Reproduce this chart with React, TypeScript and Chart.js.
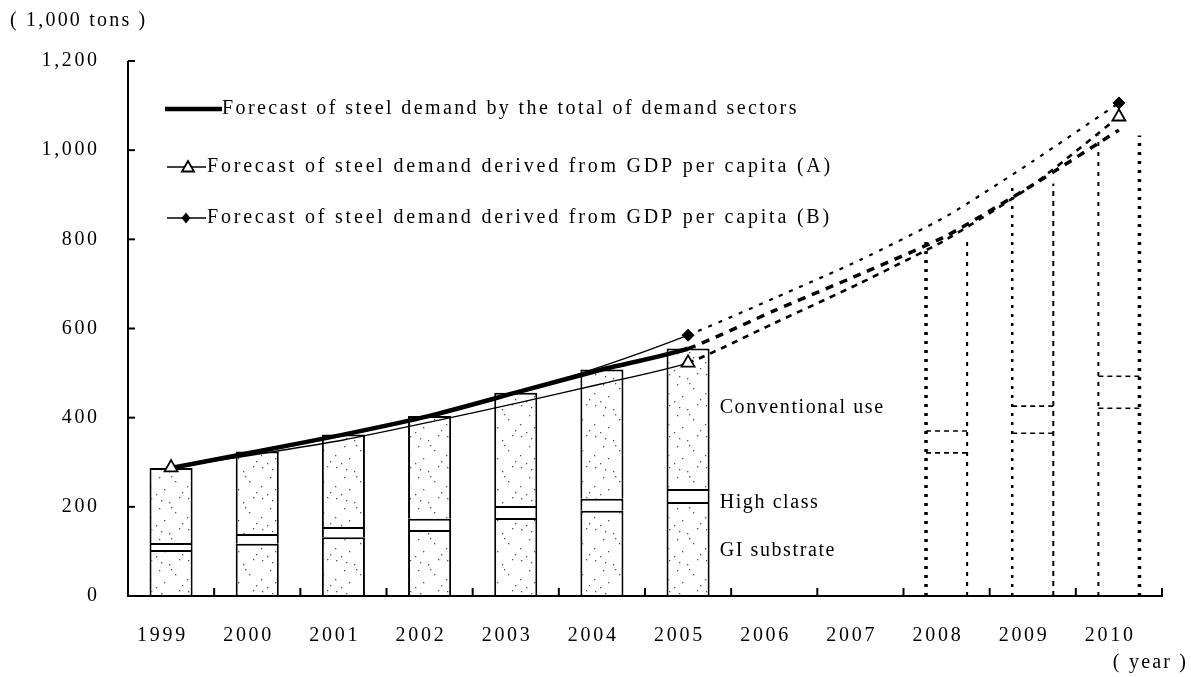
import React, { useEffect, useRef } from 'react';
import { Chart, registerables } from 'chart.js';

Chart.register(...registerables);

// ---------- data (1,000 tons) ----------
const years = ['1999', '2000', '2001', '2002', '2003', '2004', '2005', '2006', '2007', '2008', '2009', '2010'];

// actual demand by sector (stacked bars, 1999-2005)
const giSubstrate = [103, 117, 132, 148, 175, 191, 211, null, null, null, null, null];
const highClass = [16, 22, 23, 25, 27, 27, 29, null, null, null, null, null];
const conventionalUse = [168, 185, 207, 231, 254, 290, 315, null, null, null, null, null];

// forecast by sector (dashed bars, 2008-2010)
const giSubstrateForecast = [null, null, null, null, null, null, null, null, null, 321, 365, 421];
const highClassForecast = [null, null, null, null, null, null, null, null, null, 49, 61, 72];
const conventionalUseForecast = [null, null, null, null, null, null, null, null, null, 430, 499, 540];

// forecast lines
const totalOfSectors = [287, 324, 362, 404, 456, 508, 555, 640, 722, 808, 922, 1045];
const gdpForecastA = [288, 318, 350, 390, 432, 476, 523, 612, 702, 800, 922, 1075];
const gdpForecastB = [288, 322, 360, 402, 455, 515, 585, 668, 754, 852, 975, 1106];

const yTickValues = [0, 200, 400, 600, 800, 1000, 1200];
const SOLID_UNTIL = 6; // index of 2005: afterwards lines are dashed

const FONT = '"Liberation Serif", "Times New Roman", serif';

function drawText(
  ctx: CanvasRenderingContext2D,
  s: string,
  x: number,
  y: number,
  align: 'left' | 'right' | 'center',
  size: number,
  spacing: number
) {
  ctx.save();
  ctx.font = `${size}px ${FONT}`;
  ctx.fillStyle = '#000';
  ctx.textBaseline = 'middle';
  ctx.textAlign = 'left';
  const chars = Array.from(s);
  const widths = chars.map((c) => ctx.measureText(c).width);
  const total = widths.reduce((a, b) => a + b, 0) + spacing * (chars.length - 1);
  let cx = align === 'left' ? x : align === 'right' ? x - total : x - total / 2;
  chars.forEach((c, i) => {
    ctx.fillText(c, cx, y);
    cx += widths[i] + spacing;
  });
  ctx.restore();
}

function line(ctx: CanvasRenderingContext2D, x1: number, y1: number, x2: number, y2: number) {
  ctx.beginPath();
  ctx.moveTo(x1, y1);
  ctx.lineTo(x2, y2);
  ctx.stroke();
}

function triangle(ctx: CanvasRenderingContext2D, cx: number, cy: number, r: number) {
  ctx.save();
  ctx.beginPath();
  ctx.moveTo(cx, cy - r);
  ctx.lineTo(cx - r * 0.866, cy + r / 2);
  ctx.lineTo(cx + r * 0.866, cy + r / 2);
  ctx.closePath();
  ctx.fillStyle = '#fff';
  ctx.fill();
  ctx.lineWidth = 1.8;
  ctx.strokeStyle = '#000';
  ctx.stroke();
  ctx.restore();
}

function diamond(ctx: CanvasRenderingContext2D, cx: number, cy: number, r: number) {
  ctx.save();
  ctx.beginPath();
  ctx.moveTo(cx, cy - r);
  ctx.lineTo(cx + r * 0.8, cy);
  ctx.lineTo(cx, cy + r);
  ctx.lineTo(cx - r * 0.8, cy);
  ctx.closePath();
  ctx.fillStyle = '#000';
  ctx.fill();
  ctx.restore();
}

function makeStipple(): CanvasPattern | string {
  const c = document.createElement('canvas');
  c.width = 37;
  c.height = 31;
  const g = c.getContext('2d');
  if (!g) return '#fff';
  g.fillStyle = '#fff';
  g.fillRect(0, 0, 37, 31);
  g.fillStyle = '#555';
  const dots = [
    [3, 2], [21, 6], [31, 1], [11, 12], [27, 16], [2, 21], [16, 24], [34, 27], [8, 29], [23, 11], [13, 4],
  ];
  dots.forEach(([x, y]) => g.fillRect(x, y, 1.3, 1.3));
  const p = g.createPattern(c, 'repeat');
  return p || '#fff';
}

// style of the dashed forecast bar edges (left, right) for 2008, 2009, 2010
const forecastEdgeStyles = [
  { l: { w: 3.5, d: [3, 6] }, r: { w: 2, d: [4, 6] } },
  { l: { w: 2.5, d: [3, 6] }, r: { w: 2, d: [5, 5] } },
  { l: { w: 2, d: [4, 6] }, r: { w: 3.5, d: [3, 6] } },
];

const decorPlugin = {
  id: 'decor',
  beforeDatasetsDraw(chart: any) {
    const ctx: CanvasRenderingContext2D = chart.ctx;
    const giMeta = chart.getDatasetMeta(3);
    const hcMeta = chart.getDatasetMeta(4);
    const cvMeta = chart.getDatasetMeta(5);
    let k = 0;
    for (let i = 0; i < years.length; i++) {
      if (giSubstrateForecast[i] == null) continue;
      const gi = giMeta.data[i].getProps(['x', 'y', 'base', 'width'], true);
      const hc = hcMeta.data[i].getProps(['y'], true);
      const cv = cvMeta.data[i].getProps(['y'], true);
      const st = forecastEdgeStyles[k++] || forecastEdgeStyles[0];
      const left = gi.x - gi.width / 2 + 1;
      const right = gi.x + gi.width / 2 - 1;
      ctx.save();
      ctx.strokeStyle = '#000';
      ctx.lineWidth = st.l.w;
      ctx.setLineDash(st.l.d);
      line(ctx, left, gi.base, left, cv.y);
      ctx.lineWidth = st.r.w;
      ctx.setLineDash(st.r.d);
      line(ctx, right, gi.base, right, cv.y);
      ctx.lineWidth = 1.6;
      ctx.setLineDash([5, 4]);
      line(ctx, left, gi.y, right, gi.y);
      line(ctx, left, hc.y, right, hc.y);
      ctx.restore();
    }
  },
  afterDraw(chart: any) {
    const ctx: CanvasRenderingContext2D = chart.ctx;
    const { left, right, top, bottom } = chart.chartArea;
    const xs = chart.scales.x;
    const ys = chart.scales.y;
    ctx.save();
    ctx.strokeStyle = '#000';
    ctx.lineWidth = 2;
    ctx.setLineDash([]);
    // axes
    line(ctx, left, top, left, bottom + 1);
    line(ctx, left - 1, bottom, right + 1, bottom);
    yTickValues.forEach((v) => {
      const y = ys.getPixelForValue(v);
      line(ctx, left, y, left + 7, y);
      drawText(ctx, v.toLocaleString('en-US'), 97, y, 'right', 20, 2.6);
    });
    const step = xs.getPixelForValue(1) - xs.getPixelForValue(0);
    years.forEach((yr, i) => {
      const cx = xs.getPixelForValue(i);
      line(ctx, cx + step / 2, bottom, cx + step / 2, bottom - 8);
      drawText(ctx, yr, cx - 10, 636, 'center', 20, 2.7);
    });
    ctx.restore();

    // titles
    drawText(ctx, '( 1,000 tons )', 10, 21, 'left', 20, 2.2);
    drawText(ctx, '( year )', 1186, 663, 'right', 20, 2.2);

    // sector labels next to the 2005 bar
    const giMeta = chart.getDatasetMeta(0);
    const bar2005 = giMeta.data[SOLID_UNTIL].getProps(['x', 'width'], true);
    const lx = bar2005.x + bar2005.width / 2 + 10;
    drawText(ctx, 'Conventional use', lx, ys.getPixelForValue(422), 'left', 20, 1.6);
    drawText(ctx, 'High class', lx, ys.getPixelForValue(210), 'left', 20, 1.6);
    drawText(ctx, 'GI substrate', lx, ys.getPixelForValue(101), 'left', 20, 1.6);

    // legend
    ctx.save();
    ctx.strokeStyle = '#000';
    ctx.lineWidth = 4.5;
    line(ctx, 165, 109, 222, 109);
    ctx.lineWidth = 1.3;
    line(ctx, 167, 167, 206, 167);
    line(ctx, 167, 218, 206, 218);
    ctx.restore();
    triangle(ctx, 188, 168, 7);
    diamond(ctx, 186, 218, 5.5);
    drawText(ctx, 'Forecast of steel demand by the total of demand sectors', 222, 109, 'left', 20, 2.4);
    drawText(ctx, 'Forecast of steel demand derived from GDP per capita (A)', 207, 167, 'left', 20, 2.8);
    drawText(ctx, 'Forecast of steel demand derived from GDP per capita (B)', 207, 218, 'left', 20, 2.8);
  },
};

export default function App() {
  const ref = useRef<HTMLCanvasElement | null>(null);

  useEffect(() => {
    document.body.style.margin = '0';
    document.body.style.background = '#fff';
    const canvas = ref.current;
    if (!canvas) return;
    const stipple = makeStipple();
    const markerRadius = (idx: number[], r: number) => years.map((_, i) => (idx.includes(i) ? r : 0));
    const dashed = (dash: number[]) => (c: any) => (c.p0DataIndex >= SOLID_UNTIL ? dash : undefined);
    const widthAfter = (w: number) => (c: any) => (c.p0DataIndex >= SOLID_UNTIL ? w : undefined);

    const barBase = {
      type: 'bar' as const,
      stack: 'sectors',
      borderColor: '#000',
      borderWidth: 2,
      borderSkipped: 'start' as const,
      categoryPercentage: 1,
      barPercentage: 0.5,
      order: 5,
    };

    const chart = new Chart(canvas, {
      type: 'bar',
      data: {
        labels: years,
        datasets: [
          { ...barBase, label: 'GI substrate', data: giSubstrate, backgroundColor: stipple },
          { ...barBase, label: 'High class', data: highClass, backgroundColor: '#fff' },
          { ...barBase, label: 'Conventional use', data: conventionalUse, backgroundColor: stipple },
          { ...barBase, label: 'GI substrate (forecast)', data: giSubstrateForecast, backgroundColor: 'rgba(0,0,0,0)', borderWidth: 0 },
          { ...barBase, label: 'High class (forecast)', data: highClassForecast, backgroundColor: 'rgba(0,0,0,0)', borderWidth: 0 },
          { ...barBase, label: 'Conventional use (forecast)', data: conventionalUseForecast, backgroundColor: 'rgba(0,0,0,0)', borderWidth: 0 },
          {
            type: 'line' as const,
            label: 'Forecast of steel demand derived from GDP per capita (B)',
            data: gdpForecastB,
            yAxisID: 'y2',
            borderColor: '#000',
            borderWidth: 1.4,
            pointStyle: 'rectRot',
            pointRadius: markerRadius([SOLID_UNTIL, years.length - 1], 6),
            pointBackgroundColor: '#000',
            pointBorderColor: '#000',
            pointBorderWidth: 1,
            tension: 0.2,
            segment: { borderDash: dashed([4, 7]), borderWidth: widthAfter(2.2) },
            order: 2,
          },
          {
            type: 'line' as const,
            label: 'Forecast of steel demand by the total of demand sectors',
            data: totalOfSectors,
            yAxisID: 'y2',
            borderColor: '#000',
            borderWidth: 4.5,
            pointRadius: 0,
            tension: 0.2,
            segment: { borderDash: dashed([8, 7]), borderWidth: widthAfter(3.5) },
            order: 1,
          },
          {
            type: 'line' as const,
            label: 'Forecast of steel demand derived from GDP per capita (A)',
            data: gdpForecastA,
            yAxisID: 'y2',
            borderColor: '#000',
            borderWidth: 1.4,
            pointStyle: 'triangle',
            pointRadius: markerRadius([0, SOLID_UNTIL, years.length - 1], 7.5),
            pointBackgroundColor: '#fff',
            pointBorderColor: '#000',
            pointBorderWidth: 1.8,
            tension: 0.2,
            segment: { borderDash: dashed([6, 6]), borderWidth: widthAfter(2.6) },
            order: 0,
          },
        ] as any,
      },
      options: {
        responsive: false,
        animation: false,
        devicePixelRatio: 1,
        layout: { padding: { left: 128, top: 61, right: 29, bottom: 81 } },
        plugins: { legend: { display: false }, tooltip: { enabled: false } },
        scales: {
          x: { display: false, stacked: true, offset: true },
          y: { display: false, stacked: true, min: 0, max: 1200 },
          y2: { display: false, stacked: false, min: 0, max: 1200 },
        },
      },
      plugins: [decorPlugin],
    });
    return () => chart.destroy();
  }, []);

  return (
    <div style={{ width: 1191, height: 677, background: '#fff' }}>
      <canvas ref={ref} width={1191} height={677} style={{ display: 'block', width: 1191, height: 677 }} />
    </div>
  );
}
